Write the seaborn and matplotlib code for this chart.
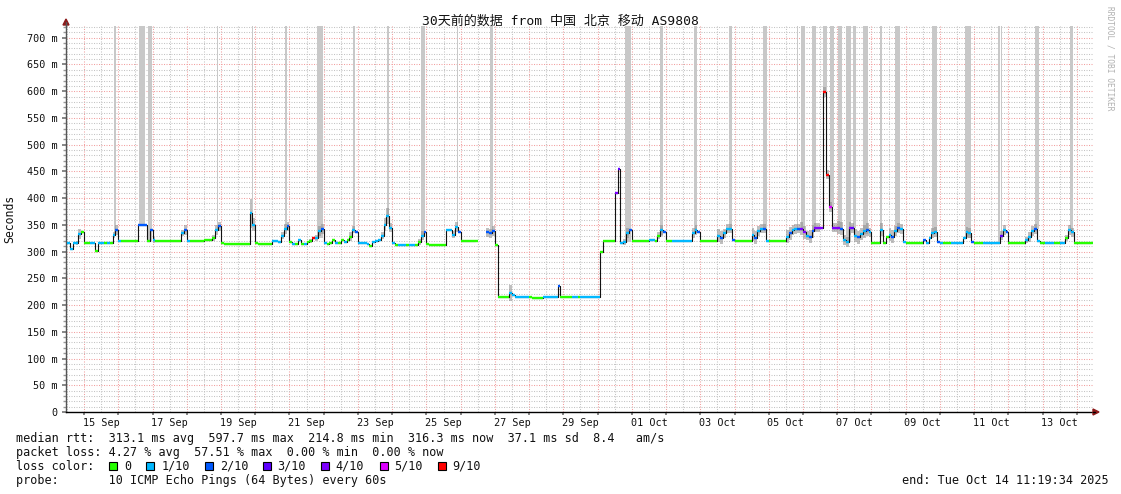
import numpy as np
import pandas as pd
import matplotlib
matplotlib.use("Agg")
import matplotlib.pyplot as plt
import matplotlib.dates as mdates
from matplotlib.ticker import MultipleLocator, FuncFormatter, NullFormatter
from matplotlib.patches import Polygon, Rectangle
from matplotlib.lines import Line2D
import seaborn as sns
from datetime import date

# ---------------- data ----------------
START = pd.Timestamp("2025-09-14 11:19:34")
END = pd.Timestamp("2025-10-14 11:19:34")
FIRST = pd.Timestamp("2025-09-14 12:00")   # first 2-hour sample
STEP_H = 2

# median rtt (ms), one row per day, samples at 12,14,...,22,00,...,10 h
median_ms_by_day = [
    [316, 304, 316, 316, 333, 337, 317, 316, 316, 317, 301, 316],  # Sep 14
    [317, 317, 316, 317, 331, 341, 320, 319, 319, 319, 319, 319],  # Sep 15
    [319, 350, 350, 350, 319, 341, 322, 319, 319, 319, 319, 319],  # Sep 16
    [319, 319, 319, 319, 335, 341, 320, 319, 319, 319, 319, 319],  # Sep 17
    [321, 321, 322, 325, 340, 347, 316, 315, 315, 315, 315, 315],  # Sep 18
    [315, 315, 315, 315, 372, 350, 316, 315, 315, 315, 315, 315],  # Sep 19
    [319, 319, 318, 330, 342, 347, 318, 315, 315, 322, 315, 315],  # Sep 20
    [318, 320, 326, 325, 338, 342, 316, 315, 316, 322, 316, 316],  # Sep 21
    [322, 318, 322, 328, 341, 336, 316, 316, 316, 315, 311, 318],  # Sep 22
    [320, 322, 330, 350, 366, 345, 316, 313, 313, 313, 313, 313],  # Sep 23
    [313, 313, 313, 318, 330, 336, 314, 313, 313, 313, 313, 313],  # Sep 24
    [313, 340, 340, 332, 346, 336, 319, 319, 319, 319, 319, 319],  # Sep 25
    [np.nan, np.nan, np.nan, 336, 334, 338, 313, 216, 216, 216, 216, 222],  # Sep 26
    [219, 216, 216, 216, 216, 215, 215, 214, 214, 214, 214, 215],  # Sep 27
    [216, 216, 216, 216, 236, 216, 216, 216, 216, 216, 216, 216],  # Sep 28
    [216, 216, 216, 216, 216, 216, 216, 300, 319, 319, 319, 319],  # Sep 29
    [410, 455, 317, 318, 335, 341, 320, 319, 319, 319, 319, 319],  # Sep 30
    [322, 321, 319, 330, 341, 336, 319, 319, 319, 320, 320, 319],  # Oct 1
    [320, 320, 320, 335, 341, 337, 319, 319, 319, 319, 319, 319],  # Oct 2
    [330, 326, 334, 343, 343, 321, 319, 319, 319, 319, 319, 319],  # Oct 3
    [332, 326, 338, 343, 343, 320, 319, 319, 319, 319, 319, 319],  # Oct 4
    [328, 334, 341, 342, 343, 343, 336, 330, 328, 338, 345, 345],  # Oct 5
    [345, 598, 444, 383, 345, 345, 345, 343, 322, 318, 344, 344],  # Oct 6
    [330, 327, 333, 338, 341, 336, 317, 317, 317, 341, 317, 328],  # Oct 7
    [332, 328, 338, 344, 342, 318, 317, 317, 317, 317, 317, 317],  # Oct 8
    [322, 317, 325, 335, 337, 318, 317, 317, 317, 317, 317, 317],  # Oct 9
    [317, 317, 325, 337, 335, 318, 317, 317, 317, 317, 317, 317],  # Oct 10
    [317, 317, 317, 330, 341, 336, 317, 317, 317, 317, 317, 317],  # Oct 11
    [322, 327, 338, 342, 320, 317, 317, 317, 317, 317, 317, 317],  # Oct 12
    [317, 317, 325, 341, 336, 317, 317, 317, 317, 317, 317, 317],  # Oct 13
]

# lost pings out of 10 for each sample
loss_by_day = [
    "111110001101", "101012100000", "022202100000", "000012100000",
    "000012000000", "000011000000", "111112010101", "009112100010",
    "010012111101", "111111101110", "110012000000", "011112000000",
    "000222000001", "111111000001", "111120000110", "111111100000",
    "431112000000", "110012001111", "111112000000", "121112000000",
    "121121000000", "121124412244", "499544421143", "121121000100",
    "121211000000", "211112100011", "111112000111", "111312000000",
    "111210011100", "110110000000",
]

# smoke spread (units of 3 ms) around the median
smoke_by_day = [
    "000130000000", "000023000000", "000000200000", "000023000000",
    "000233000000", "000094000000", "000233000000", "010233000000",
    "000320000000", "002453000000", "000230000000", "000230000000",
    "000333000005", "000000000000", "000000000000", "000000000000",
    "000230000000", "000230000000", "000330000000", "443330000000",
    "443330000000", "443334434433", "033333443343", "444443000400",
    "443330000000", "000330000000", "000330000000", "000330000000",
    "233300000000", "002330000000",
]

# periods where some pings ran off the top (hours after START, duration h)
spike_start_h = [33.9, 51.4, 57.5, 106.1, 130.6, 153.5, 176.0, 201.0, 224.8,
                 248.9, 273.9, 297.3, 391.9, 416.4, 440.3, 465.0, 488.9,
                 512.3, 515.3, 522.8, 530.9, 535.6, 541.5, 546.9, 552.0,
                 558.6, 570.7, 581.2, 607.2, 630.3, 653.4, 655.5, 679.4, 703.9]
spike_width_h = [1.0, 4.0, 2.8, 0.8, 0.8, 1.6, 4.0, 1.6, 1.8,
                 2.8, 1.1, 2.3, 4.0, 1.9, 2.3, 1.7, 2.4,
                 1.1, 2.8, 3.0, 2.4, 3.0, 2.3, 3.3, 1.9,
                 3.9, 1.2, 3.5, 3.3, 4.2, 1.4, 0.7, 2.8, 2.3]

loss_levels = ["0", "1/10", "2/10", "3/10", "4/10", "5/10", "9/10"]
loss_palette = {0: "#26ff00", 1: "#00b8ff", 2: "#0059ff", 3: "#5e00ff",
                4: "#7e00ff", 5: "#dd00ff", 9: "#ff0000"}

stats_rtt = "median rtt:  313.1 ms avg  597.7 ms max  214.8 ms min  316.3 ms now  37.1 ms sd  8.4   am/s"
stats_loss = "packet loss: 4.27 % avg  57.51 % max  0.00 % min  0.00 % now"
probe_txt = "probe:       10 ICMP Echo Pings (64 Bytes) every 60s"
end_txt = "end: Tue Oct 14 11:19:34 2025"
title_txt = "30天前的数据 from 中国 北京 移动 AS9808"

# ---------------- figure ----------------
W, H = 1121, 494
YMAX = 722
sns.set_theme(style="white")
plt.rcParams['font.family'] = ['DejaVu Sans Mono', 'Noto Sans CJK SC']

median = np.array(sum(median_ms_by_day, []), dtype=float)
loss = np.array([int(c) for c in "".join(loss_by_day)])
smoke = np.array([int(c) for c in "".join(smoke_by_day)])
times = FIRST + pd.to_timedelta(np.arange(len(median)) * STEP_H, unit="h")
tnum = mdates.date2num(times.to_pydatetime())
dt = STEP_H / 24.0

fig = plt.figure(figsize=(W / 100, H / 100), dpi=100)
fig.patch.set_facecolor("white")
ax = fig.add_axes([66 / W, (H - 412) / H, (1093 - 66) / W, (412 - 26) / H])
ax.set_facecolor("white")

def fx(x):
    return x / W

def fy(y):
    return 1 - y / H

# full-height spike bars
t0 = mdates.date2num(START.to_pydatetime())
bar_x = t0 + np.array(spike_start_h) / 24.0
bar_w = np.array(spike_width_h) / 24.0
bar_idx = np.clip(((bar_x - tnum[0]) / dt).astype(int), 0, len(median) - 1)
bar_bottom = np.where(np.isnan(median[bar_idx]), 320, median[bar_idx])
ax.bar(bar_x, YMAX - bar_bottom, width=bar_w, bottom=bar_bottom, align="edge",
       color="#c8c8c8", linewidth=0, zorder=1)

# smoke
tx = np.append(tnum, tnum[-1] + dt)
lo = np.append(median - 3 * smoke, np.nan)
hi = np.append(median + 3 * smoke, np.nan)
lo[-1], hi[-1] = lo[-2], hi[-2]
ax.fill_between(tx, lo, hi, step="post", color="#8c8c8c", alpha=0.55, lw=0, zorder=2)

# black median step line (seaborn), split at gaps
df = pd.DataFrame({"t": times, "median": median})
df["seg"] = df["median"].isna().cumsum()
df = df.dropna()
sns.lineplot(data=df, x="t", y="median", units="seg", estimator=None,
             drawstyle="steps-post", color="#111111", lw=0.8, ax=ax, zorder=3,
             legend=False)

# coloured median by loss
ok = ~np.isnan(median)
ax.hlines(median[ok], tnum[ok], tnum[ok] + dt,
          colors=[loss_palette[v] for v in loss[ok]], lw=1.7, zorder=4)

# axes
ax.set_xlim(mdates.date2num(START.to_pydatetime()), mdates.date2num(END.to_pydatetime()))
ax.set_ylim(0, YMAX)
ax.set_xlabel("")
ax.set_ylabel("")

ax.xaxis.set_major_locator(mdates.DayLocator())
ax.xaxis.set_major_formatter(NullFormatter())
ax.xaxis.set_minor_locator(mdates.HourLocator(byhour=[12]))

def xfmt(x, pos):
    d = mdates.num2date(x)
    if (d.date() - date(2025, 9, 15)).days % 2 == 0:
        return d.strftime("%d %b")
    return ""

ax.xaxis.set_minor_formatter(FuncFormatter(xfmt))
ax.yaxis.set_major_locator(MultipleLocator(50))
ax.yaxis.set_minor_locator(MultipleLocator(10))
ax.yaxis.set_major_formatter(FuncFormatter(lambda v, p: "0" if v == 0 else f"{int(v)} m"))

red_grid = dict(color="#f2a0a0", linestyle=(0, (1, 1.4)), linewidth=0.75)
gray_grid = dict(color="#c4c4c4", linestyle=(0, (1, 1.4)), linewidth=0.75)
ax.grid(which="major", axis="both", **red_grid)
ax.grid(which="minor", axis="both", **gray_grid)
ax.set_axisbelow(True)

ax.tick_params(axis="y", which="major", length=3, pad=3, labelsize=7.3,
               color="#777777", left=True, labelcolor="#111111")
ax.tick_params(axis="y", which="minor", length=2, color="#999999", left=True)
ax.tick_params(axis="x", which="major", length=2, color="#777777", bottom=True)
ax.tick_params(axis="x", which="minor", length=0, pad=4, labelsize=7.3,
               labelcolor="#111111", bottom=True)

for s in ["top", "right"]:
    ax.spines[s].set_visible(False)
ax.spines["left"].set_color("#555555")
ax.spines["left"].set_linewidth(1.0)
ax.spines["bottom"].set_color("#000000")
ax.spines["bottom"].set_linewidth(1.0)

# axis extensions and arrows
fig.add_artist(Line2D([fx(66), fx(66)], [fy(26), fy(22)], color="#555555", lw=1.0))
fig.add_artist(Line2D([fx(1093), fx(1095)], [fy(412), fy(412)], color="#000000", lw=1.0))
fig.add_artist(Polygon([(fx(63), fy(25)), (fx(69), fy(25)), (fx(66), fy(19))],
                       closed=True, color="#8b1a1a", transform=fig.transFigure))
fig.add_artist(Polygon([(fx(1093), fy(409)), (fx(1093), fy(415)), (fx(1099), fy(412))],
                       closed=True, color="#8b1a1a", transform=fig.transFigure))

# texts
fig.text(fx(560), fy(21), title_txt, ha="center", va="center", fontsize=9.4,
         family=['DejaVu Sans Mono', 'Noto Sans CJK SC'], color="#111111")
fig.text(fx(10), fy(219), "Seconds", rotation=90, ha="center", va="center",
         fontsize=8.3, color="#111111")
fig.text(fx(1110), fy(58), "RRDTOOL / TOBI OETIKER", rotation=270, ha="center",
         va="center", fontsize=5.7, color="#b0b0b0")

LX = 16
CW = 7.1
fs = 8.5
fig.text(fx(LX), fy(438), stats_rtt, ha="left", va="center", fontsize=fs, color="#111111")
fig.text(fx(LX), fy(452), stats_loss, ha="left", va="center", fontsize=fs, color="#111111")
fig.text(fx(LX), fy(466), "loss color:", ha="left", va="center", fontsize=fs, color="#111111")
fig.text(fx(LX), fy(480), probe_txt, ha="left", va="center", fontsize=fs, color="#111111")
fig.text(fx(902), fy(480), end_txt, ha="left", va="center", fontsize=fs, color="#111111")

sq_cols = [13.1, 18.3, 26.6, 34.8, 42.9, 51.2, 59.4]
lab_cols = [15.2, 20.5, 28.7, 36.8, 45.0, 53.2, 61.4]
for lvl, sc, lc in zip(loss_levels, sq_cols, lab_cols):
    key = int(lvl.split("/")[0])
    x0 = LX + sc * CW
    fig.add_artist(Rectangle((fx(x0), fy(470)), 8 / W, 8 / H, facecolor=loss_palette[key],
                             edgecolor="#000000", lw=0.8, transform=fig.transFigure))
    fig.text(fx(LX + lc * CW), fy(466), lvl, ha="left", va="center", fontsize=fs,
             color="#111111")

fig.savefig("out.png", dpi=100, facecolor="white")
